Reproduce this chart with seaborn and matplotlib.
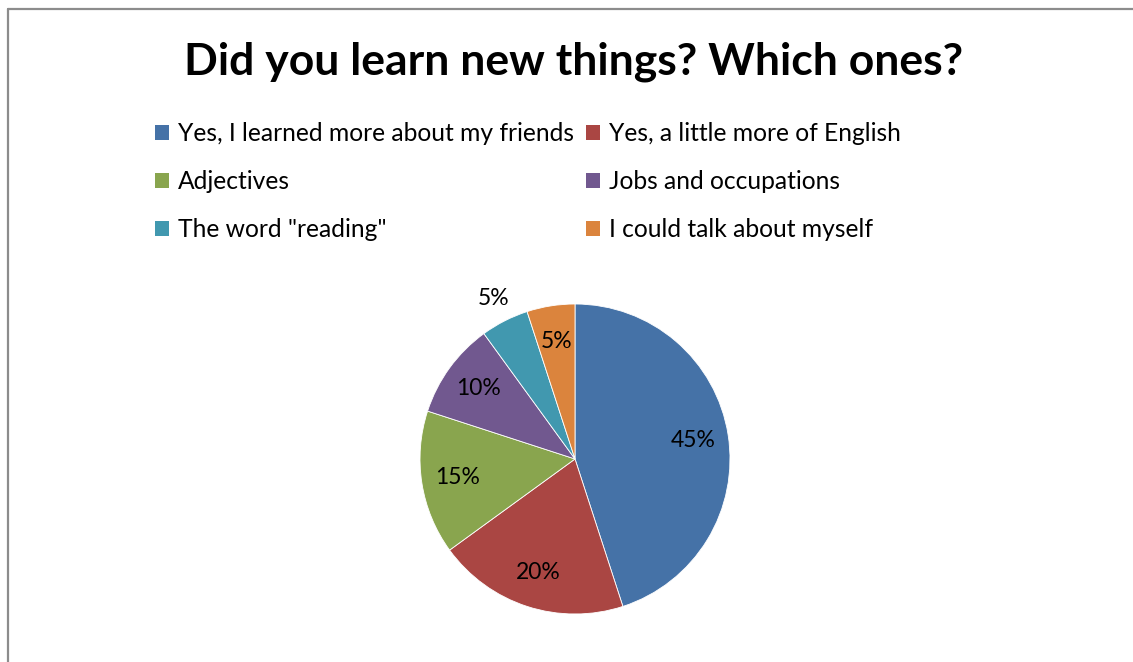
import matplotlib
matplotlib.use("Agg")
import matplotlib.pyplot as plt
from matplotlib.patches import Patch
from matplotlib.lines import Line2D
import numpy as np
import seaborn as sns

# Survey answers and their shares (percent)
answers = [
    "Yes, I learned more about my friends",
    "Yes, a little more of English",
    "Adjectives",
    "Jobs and occupations",
    'The word "reading"',
    "I could talk about myself",
]
shares = [45, 20, 15, 10, 5, 5]
title = "Did you learn new things? Which ones?"

sns.set_theme(style="white")
plt.rcParams["font.family"] = ["Lato", "DejaVu Sans"]
plt.rcParams["text.color"] = "black"

colors = sns.color_palette(["#4572A7", "#AA4643", "#89A54E", "#71588F", "#4198AF", "#DB843D"])

W, H = 1133, 662
fig = plt.figure(figsize=(W / 100, H / 100), dpi=100)
fig.patch.set_facecolor("white")

# Chart frame (top and left edges)
frame_kw = dict(color="#8c8c8c", lw=1.6, transform=fig.transFigure)
fig.add_artist(Line2D([8 / W, 1.0], [1 - 9 / H, 1 - 9 / H], **frame_kw))
fig.add_artist(Line2D([8 / W, 8 / W], [0.0, 1 - 9 / H], **frame_kw))

# Pie axes
cx, cy, r = 575, 459, 155
ax = fig.add_axes([(cx - r) / W, (H - cy - r) / H, 2 * r / W, 2 * r / H])
wedges, texts, autotexts = ax.pie(
    shares,
    colors=colors,
    startangle=90,
    counterclock=False,
    autopct=lambda p: f"{p:.0f}%",
    pctdistance=0.77,
    wedgeprops=dict(edgecolor="white", linewidth=0.6),
    textprops=dict(fontsize=16.5, color="black"),
)
ax.set_aspect("equal")
ax.set_xlim(-1, 1)
ax.set_ylim(-1, 1)
ax.axis("off")

# The small teal slice gets its label outside the pie
w = wedges[4]
mid = np.deg2rad((w.theta1 + w.theta2) / 2)
autotexts[4].set_position((1.16 * np.cos(mid), 1.16 * np.sin(mid)))

fig.text(0.506, 1 - 62 / H, title, ha="center", va="center",
         fontsize=32, fontweight="bold", color="black")

order = [0, 2, 4, 1, 3, 5]
handles = [Patch(facecolor=colors[i], edgecolor="none") for i in order]
labels = [answers[i] for i in order]
fig.legend(
    handles, labels, ncol=2,
    loc="upper left", bbox_to_anchor=(155 / W, 1 - 122 / H),
    frameon=False, fontsize=17.7, labelcolor="black",
    handlelength=0.55, handleheight=0.55, handletextpad=0.38,
    labelspacing=1.02, columnspacing=0.5, borderaxespad=0, borderpad=0,
)

fig.savefig("out.png", dpi=100, facecolor="white")
